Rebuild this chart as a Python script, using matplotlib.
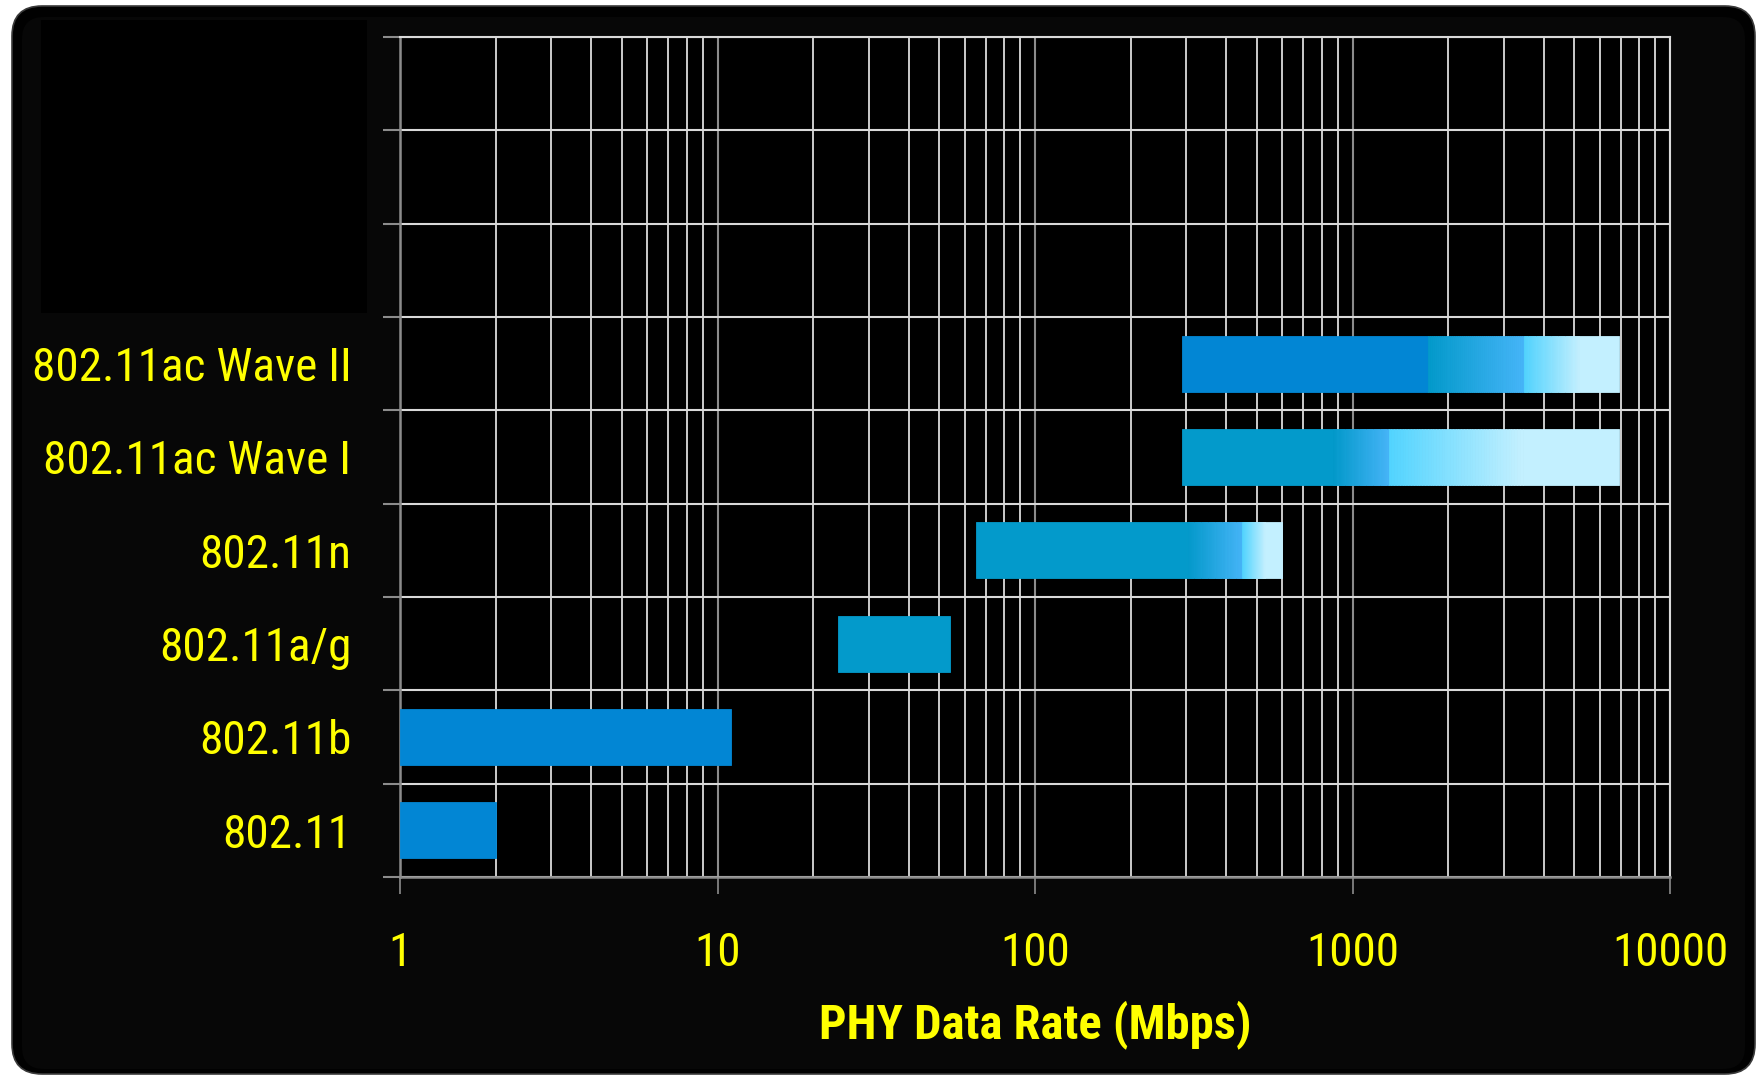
import numpy as np
import matplotlib
matplotlib.use("Agg")
import matplotlib.pyplot as plt
from matplotlib.colors import to_rgb
from matplotlib.patches import FancyBboxPatch, Rectangle
from matplotlib.transforms import IdentityTransform
from matplotlib.ticker import FixedLocator, NullFormatter

plt.rcParams['font.family'] = ['Roboto Condensed', 'DejaVu Sans']

# Wi-Fi generations and their PHY rate spans (Mbps)
standards = ['802.11', '802.11b', '802.11a/g', '802.11n',
             '802.11ac Wave I', '802.11ac Wave II']
rate_min = [1, 1, 24, 65, 290, 290]
solid_end = [2, 11, 54, 300, 867, 1733]
blend_end = [2, 11, 54, 450, 1300, 3467]
rate_max = [2, 11, 54, 600, 6933, 6933]
base_color = ['#0286D4', '#0286D4', '#039ACB', '#039ACB', '#039ACB', '#0286D4']

xticks = [1, 10, 100, 1000, 10000]
xticklabels = ['1', '10', '100', '1000', '10000']

YELLOW = '#FFFF00'
MID_A, MID_B = '#039ACB', '#45B5F8'
LIGHT_A, LIGHT_B = '#52D4FF', '#C3F0FF'
BAR_H = 0.6

W, H = 1762, 1077
fig = plt.figure(figsize=(W / 100, H / 100), dpi=100, facecolor='white')

# rounded dark panel behind everything (pixel coords)
outer = FancyBboxPatch((12, 3), 1743, 1068, boxstyle='round,pad=0,rounding_size=30',
                       transform=IdentityTransform(), facecolor='#010101',
                       edgecolor='#3a3a3a', linewidth=1.2, zorder=-3)
inner = FancyBboxPatch((22, 8), 1723, 1052, boxstyle='round,pad=0,rounding_size=22',
                       transform=IdentityTransform(), facecolor='#070707',
                       edgecolor='none', zorder=-2)
legend_box = Rectangle((41, H - 313), 326, 293, transform=IdentityTransform(),
                       facecolor='#000000', edgecolor='none', zorder=-1)
for p in (outer, inner, legend_box):
    fig.patches.append(p)

ax = fig.add_axes([400 / W, 200 / H, 1270 / W, 840 / H])
ax.set_zorder(1)
ax.set_facecolor('#000000')
ax.set_xscale('log')
ax.set_xlim(1, 10000)
ax.set_ylim(0, 9)


def gradient_bar(y, x0, x1, c0, c1, n=48):
    edges = np.geomspace(x0, x1, n + 1)
    a, b = np.array(to_rgb(c0)), np.array(to_rgb(c1))
    t = np.linspace(0, 1, n)[:, None]
    cols = a + (b - a) * t
    ax.barh(y, edges[1:] - edges[:-1], left=edges[:-1], height=BAR_H,
            color=cols, edgecolor=cols, linewidth=0.6, zorder=3)


for i, name in enumerate(standards):
    y = i + 0.5
    # solid part
    ax.barh(y, solid_end[i] - rate_min[i], left=rate_min[i], height=BAR_H,
            color=base_color[i], edgecolor=base_color[i], linewidth=0.6, zorder=3)
    # blue blend
    if blend_end[i] > solid_end[i]:
        gradient_bar(y, solid_end[i], blend_end[i], MID_A, MID_B)
    # light tail: fades to pale, then stays pale
    if rate_max[i] > blend_end[i]:
        split = 10 ** (np.log10(blend_end[i]) +
                       0.58 * (np.log10(rate_max[i]) - np.log10(blend_end[i])))
        gradient_bar(y, blend_end[i], split, LIGHT_A, LIGHT_B)
        ax.barh(y, rate_max[i] - split, left=split, height=BAR_H,
                color=LIGHT_B, edgecolor=LIGHT_B, linewidth=0.6, zorder=3)

# grid
ax.set_xticks(xticks)
ax.set_xticklabels(xticklabels)
ax.xaxis.set_minor_locator(FixedLocator(
    [m * 10 ** d for d in range(4) for m in range(2, 10)]))
ax.xaxis.set_minor_formatter(NullFormatter())
ax.grid(which='minor', axis='x', color='#dcdcdc', linewidth=1.3, zorder=1)
ax.grid(which='major', axis='x', color='#8c8c8c', linewidth=1.5, zorder=1)

ax.set_yticks(np.arange(0, 10))
ax.set_yticklabels([])
ax.set_yticks(np.arange(len(standards)) + 0.5, minor=True)
ax.set_yticklabels(standards, minor=True)
ax.grid(which='major', axis='y', color='#d9d9d9', linewidth=1.5, zorder=1)

ax.tick_params(axis='x', which='major', length=12, width=1.2, color='#8c8c8c',
               labelsize=34, labelcolor=YELLOW, pad=27)
ax.tick_params(axis='x', which='minor', length=0)
ax.tick_params(axis='y', which='major', length=12, width=1.5, color='#8c8c8c')
ax.tick_params(axis='y', which='minor', length=0, labelsize=34,
               labelcolor=YELLOW, pad=35)

for side in ('left', 'bottom'):
    ax.spines[side].set_color('#8c8c8c')
    ax.spines[side].set_linewidth(1.8)
for side in ('top', 'right'):
    ax.spines[side].set_color('#d9d9d9')
    ax.spines[side].set_linewidth(1.5)

ax.set_xlabel('PHY Data Rate (Mbps)', color=YELLOW, fontsize=35,
              fontweight='bold', labelpad=18)

fig.savefig('out.png', dpi=100, facecolor='white')
